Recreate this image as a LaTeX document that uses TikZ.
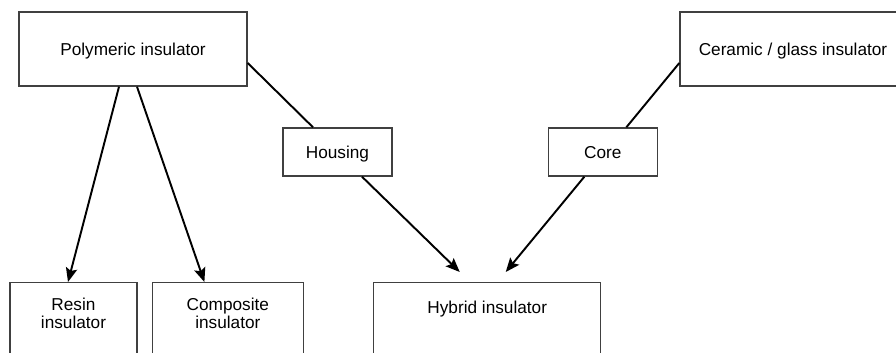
\documentclass[tikz,border=0pt]{standalone}
\usepackage{fontspec}
\setmainfont{Liberation Sans}
\usetikzlibrary{arrows.meta, positioning}

\begin{document}
\begin{tikzpicture}[x=0.02cm, y=-0.02cm,
    % Boxes
    sbox/.style={draw=black!75, line width=0.8pt, inner sep=0pt, font=\fontsize{9.8}{10.3}\selectfont, align=center},
    stop/.style={sbox, minimum height=1.48cm, text height=0.72em, text depth=0pt},
    spart/.style={sbox, minimum width=2.18cm, minimum height=0.96cm, text height=0.72em, text depth=0pt},
    sbot/.style={sbox, anchor=north, text height=0.92cm, text depth=1.54cm},
    % Connectors
    slink/.style={line width=1.1pt},
    sarrow/.style={slink, -{Stealth[length=8pt, width=6.5pt, inset=1.5pt]}}]

\clip (0,0) rectangle (896,352);

% Source materials
\node[stop, minimum width=4.56cm] (poly) at (133,49) {Polymeric insulator};
\node[stop, minimum width=4.52cm] (ceram) at (793,49) {Ceramic / glass insulator};

% Parts
\node[spart] (housing) at (337.5,152) {Housing};
\node[spart, right=3.1cm of housing] (core) {Core};

% Insulator types
\node[sbot, minimum width=2.54cm] (resin) at (73.5,282) {Resin\\insulator};
\node[sbot, minimum width=3.02cm, right=0.28cm of resin] (comp) {Composite\\insulator};
\node[sbot, minimum width=4.54cm, text height=0.62cm, text depth=1.84cm, right=1.38cm of comp] (hybrid) {Hybrid insulator};

% Connections
\draw[sarrow] ([xshift=-0.28cm]poly.south) -- ([xshift=-0.11cm]resin.north);
\draw[sarrow] ([xshift=0.08cm]poly.south) -- ([xshift=-0.47cm]comp.north);
\draw[slink] ([yshift=-0.28cm]poly.east) -- ([xshift=-0.49cm]housing.north);
\draw[sarrow] ([xshift=0.49cm]housing.south) -- ([xshift=-0.55cm, yshift=0.2cm]hybrid.north);
\draw[slink] ([yshift=-0.28cm]ceram.west) -- ([xshift=0.47cm]core.north);
\draw[sarrow] ([xshift=-0.37cm]core.south) -- ([xshift=0.37cm, yshift=0.2cm]hybrid.north);

\end{tikzpicture}
\end{document}
